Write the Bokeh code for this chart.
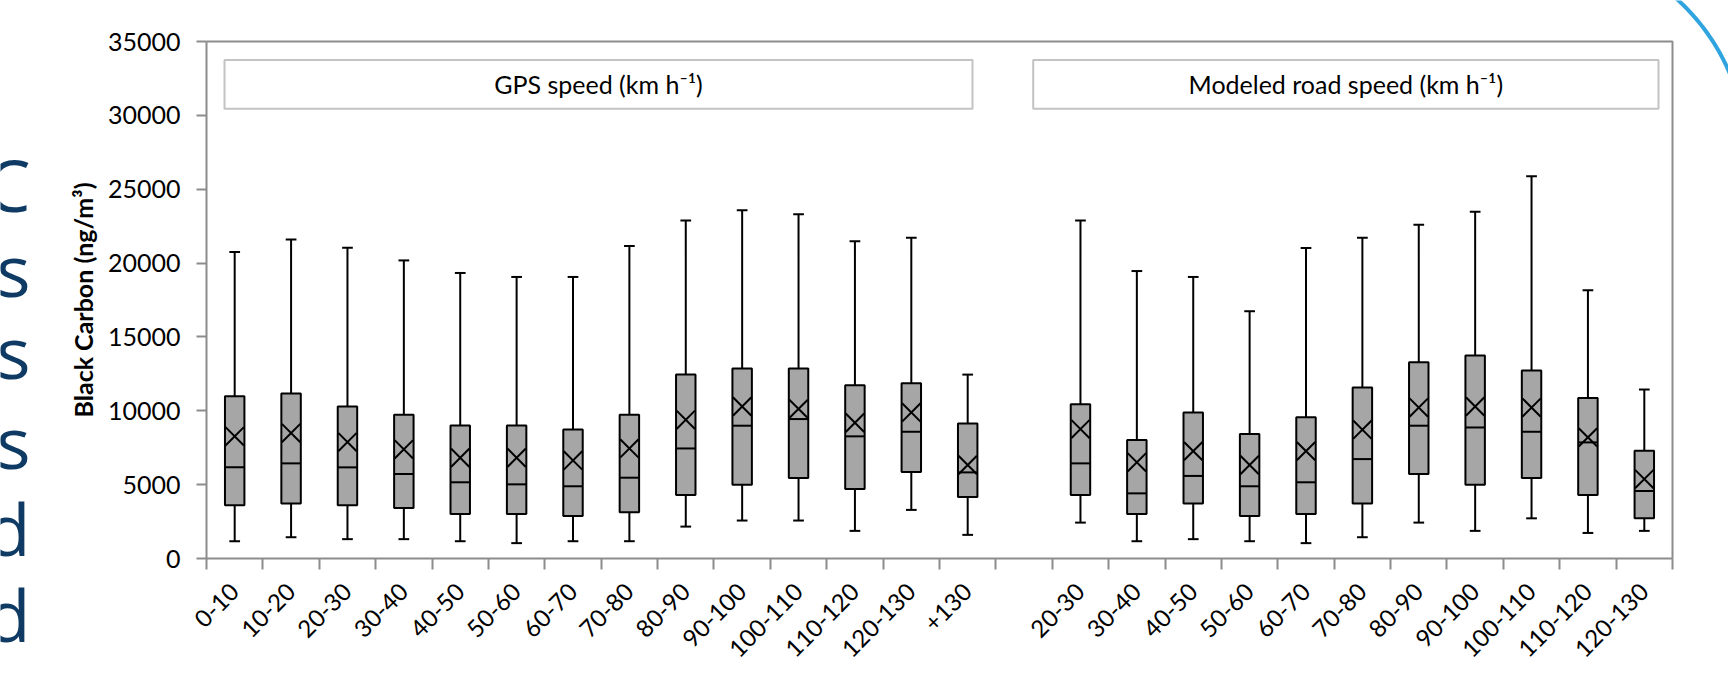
import math
from bokeh.plotting import figure
from bokeh.models import Range1d, FixedTicker, Label, LinearAxis
from bokeh.core.properties import value
from bokeh.embed import file_html
from bokeh.resources import INLINE

# ---------------- data ----------------
gps_labels = ["0-10", "10-20", "20-30", "30-40", "40-50", "50-60", "60-70",
              "70-80", "80-90", "90-100", "100-110", "110-120", "120-130", "+130"]
gps_min  = [1170, 1440, 1310, 1310, 1170, 1040, 1170, 1170, 2160, 2570, 2570, 1870, 3290, 1600]
gps_q1   = [3600, 3720, 3600, 3420, 3020, 3020, 2880, 3130, 4300, 5000, 5450, 4710, 5860, 4170]
gps_med  = [6170, 6440, 6170, 5720, 5160, 5020, 4890, 5470, 7450, 8990, 9440, 8270, 8580, 5830]
gps_mean = [8270, 8490, 7880, 7390, 6820, 6820, 6640, 7450, 9390, 10290, 10130, 9190, 9890, 6330]
gps_q3   = [10990, 11170, 10290, 9730, 9010, 9010, 8740, 9730, 12450, 12860, 12860, 11730, 11870, 9140]
gps_max  = [20750, 21600, 21040, 20180, 19330, 19060, 19060, 21150, 22880, 23580, 23310, 21470, 21710, 12450]

mod_labels = ["20-30", "30-40", "40-50", "50-60", "60-70", "70-80",
              "80-90", "90-100", "100-110", "110-120", "120-130"]
mod_min  = [2430, 1170, 1310, 1170, 1040, 1440, 2430, 1870, 2720, 1730, 1870]
mod_q1   = [4300, 3020, 3720, 2880, 3020, 3720, 5720, 5000, 5450, 4300, 2720]
mod_med  = [6440, 4410, 5590, 4890, 5160, 6730, 8990, 8870, 8580, 7860, 4570]
mod_mean = [8760, 6510, 7270, 6330, 7270, 8720, 10220, 10290, 10220, 8200, 5380]
mod_q3   = [10450, 8020, 9890, 8420, 9570, 11580, 13290, 13740, 12720, 10860, 7300]
mod_max  = [22880, 19460, 19060, 16740, 21020, 21710, 22590, 23470, 25880, 18160, 11440]

y_ticks = [0, 5000, 10000, 15000, 20000, 25000, 30000, 35000]
panel_titles = ["GPS speed (km h\u207b\u00b9)", "Modeled road speed (km h\u207b\u00b9)"]
side_letters = ["C", "s", "s", "s", "d", "d"]

# ---------------- layout ----------------
GAP = 1
n_gps, n_mod = len(gps_labels), len(mod_labels)
n_slots = n_gps + GAP + n_mod
xs = list(range(n_gps)) + [n_gps + GAP + j for j in range(n_mod)]
labels = gps_labels + mod_labels
mn = gps_min + mod_min
q1 = gps_q1 + mod_q1
med = gps_med + mod_med
mean = gps_mean + mod_mean
q3 = gps_q3 + mod_q3
mx = gps_max + mod_max

PAGE_W, PAGE_H = 1728, 676
FL, FT, FR, FB = 206, 41, 1672, 558       # plot-area edges on the page
FW, FH = FR - FL, FB - FT
X0, X1 = -0.5, n_slots - 0.5
Y0, Y1 = 0, 35000

def px_x(page_x):
    return X0 + (page_x - FL) / FW * (X1 - X0)

def px_y(page_y):
    return Y0 + (FB - page_y) / FH * (Y1 - Y0)

AX = "#8C8C8C"
FONT = "Lato"

p = figure(width=PAGE_W, height=PAGE_H,
           x_range=Range1d(px_x(0), px_x(PAGE_W)), y_range=Range1d(px_y(PAGE_H), px_y(0)),
           x_axis_location=None, y_axis_location=None, title_location=None,
           output_backend="svg", toolbar_location=None,
           min_border_left=0, min_border_right=0, min_border_top=0, min_border_bottom=0)
p.grid.visible = False
p.outline_line_color = None
p.background_fill_color = "white"
p.border_fill_color = "white"

xa = LinearAxis(fixed_location=Y0, bounds=(X0, X1))
xa.ticker = FixedTicker(ticks=xs, minor_ticks=[k - 0.5 for k in range(n_slots + 1)])
xa.major_label_overrides = {x: l for x, l in zip(xs, labels)}
xa.major_tick_line_color = None
xa.major_tick_out = 11
xa.major_tick_in = 0
xa.minor_tick_line_color = AX
xa.minor_tick_line_width = 2
xa.minor_tick_out = 11
xa.minor_tick_in = 0
xa.axis_line_color = AX
xa.axis_line_width = 2
xa.major_label_orientation = math.pi / 4
xa.major_label_text_font = FONT
xa.major_label_text_font_size = "24px"
xa.major_label_text_color = "black"
xa.major_label_standoff = 18
p.add_layout(xa, "below")

ya = LinearAxis(fixed_location=X0, bounds=(Y0, Y1))
ya.ticker = FixedTicker(ticks=y_ticks)
ya.major_tick_line_color = AX
ya.major_tick_line_width = 2
ya.major_tick_out = 10
ya.major_tick_in = 0
ya.minor_tick_line_color = None
ya.axis_line_color = AX
ya.axis_line_width = 2
ya.major_label_text_font = FONT
ya.major_label_text_font_size = "25px"
ya.major_label_text_color = "black"
ya.major_label_standoff = 16
ya.axis_label = "Black Carbon (ng/m\u00b3)"
ya.axis_label_text_font = FONT
ya.axis_label_text_font_style = "bold"
ya.axis_label_text_font_size = "25px"
ya.axis_label_text_color = "black"
ya.axis_label_standoff = 7
p.add_layout(ya, "left")

# plot-area border (top and right)
p.line(x=[X0, X1, X1], y=[Y1, Y1, Y0], line_color=AX, line_width=2)

# header panels
hdr_left = [px_x(224), px_x(1032.7)]
hdr_right = [px_x(972), px_x(1658)]
hdr_top, hdr_bot = px_y(59.5), px_y(108.3)
p.quad(left=hdr_left, right=hdr_right, top=hdr_top, bottom=hdr_bot,
       fill_color="white", line_color="#C3C3C3", line_width=2)
for l, r, t in zip(hdr_left, hdr_right, panel_titles):
    p.add_layout(Label(x=(l + r) / 2, y=(hdr_top + hdr_bot) / 2, text=t,
                       text_align="center", text_baseline="middle",
                       text_font=FONT, text_font_size="25px", text_color="black"))

# box plots
BW, CW = 0.345, 0.19
p.segment(x0=xs, y0=q3, x1=xs, y1=mx, line_color="black", line_width=2)
p.segment(x0=xs, y0=q1, x1=xs, y1=mn, line_color="black", line_width=2)
p.segment(x0=[x - CW / 2 for x in xs], y0=mx, x1=[x + CW / 2 for x in xs], y1=mx,
          line_color="black", line_width=2)
p.segment(x0=[x - CW / 2 for x in xs], y0=mn, x1=[x + CW / 2 for x in xs], y1=mn,
          line_color="black", line_width=2)
p.vbar(x=xs, width=BW, bottom=q1, top=q3, fill_color="#A6A6A6",
       line_color="black", line_width=2)
p.segment(x0=[x - BW / 2 for x in xs], y0=med, x1=[x + BW / 2 for x in xs], y1=med,
          line_color="black", line_width=2)
p.scatter(x=xs, y=mean, marker="x", size=26, line_color="black", line_width=2)

# ---------------- slide decorations ----------------
letter_base = [183, 268, 350, 440, 527, 613]
p.text(x=[px_x(30)] * len(side_letters), y=[px_y(b) for b in letter_base], text=side_letters,
       text_align="right", text_baseline="alphabetic",
       text_font=value("Open Sans"), text_font_size="72px", text_color="#0F3A63")

cx, cy, rr = 1534.4, 155.4, 211.6
angs = [math.radians(a) for a in range(-50, -15)]
p.line(x=[px_x(cx + rr * math.cos(a)) for a in angs],
       y=[px_y(cy + rr * math.sin(a)) for a in angs],
       line_color="#2FA4DE", line_width=4)

open("out.html", "w").write(file_html(p, INLINE))
